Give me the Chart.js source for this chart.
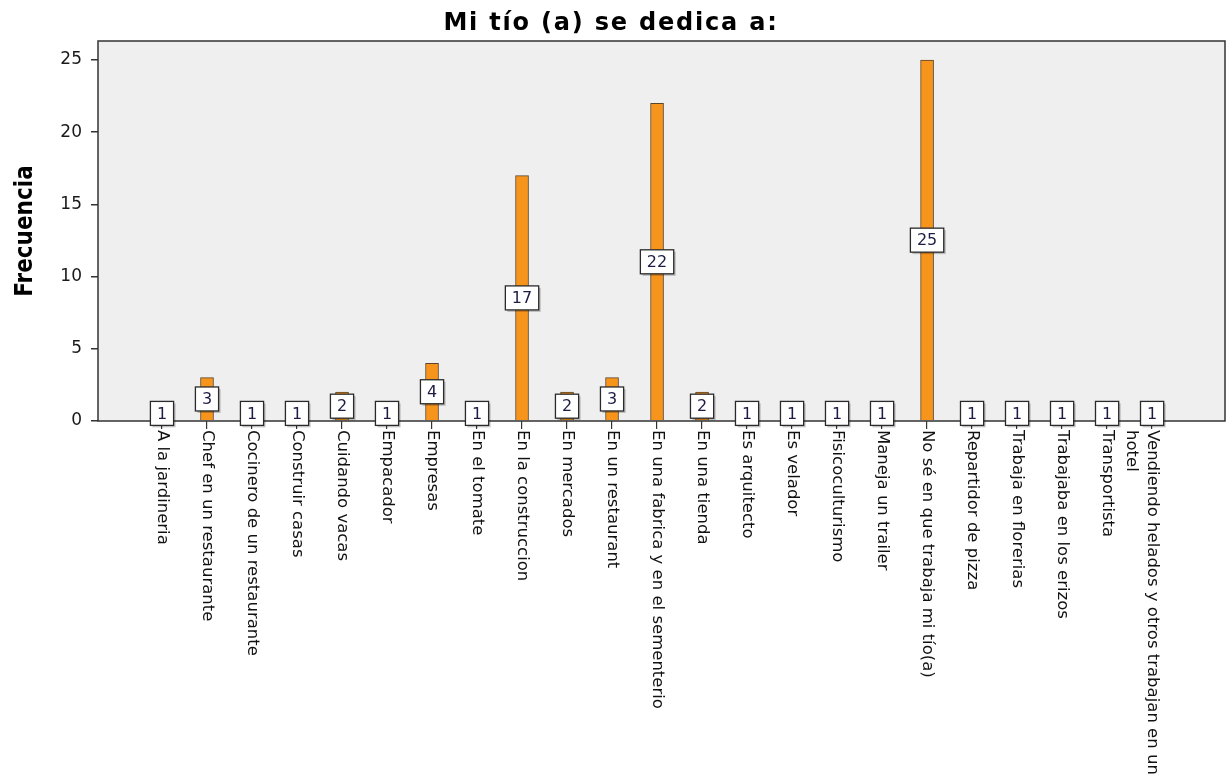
<!DOCTYPE html>
<html>
<head>
<meta charset="utf-8">
<script src="https://cdn.jsdelivr.net/npm/chart.js@4.4.1/dist/chart.umd.min.js"></script>
<style>
html, body { margin: 0; padding: 0; background: #ffffff; }
canvas { display: block; }
</style>
</head>
<body>
<canvas id="c" width="1226" height="781"></canvas>
<script>
// ---- data ----
const chartTitle = 'Mi tío (a) se dedica a:';
const yAxisTitle = 'Frecuencia';
const categories = [
  'A la jardineria',
  'Chef en un restaurante',
  'Cocinero de un restaurante',
  'Construir casas',
  'Cuidando vacas',
  'Empacador',
  'Empresas',
  'En el tomate',
  'En la construccion',
  'En mercados',
  'En un restaurant',
  'En una fabrica y en el sementerio',
  'En una tienda',
  'Es arquitecto',
  'Es velador',
  'Fisicoculturismo',
  'Maneja un trailer',
  'No sé en que trabaja mi tío(a)',
  'Repartidor de pizza',
  'Trabaja en florerias',
  'Trabajaba en los erizos',
  'Transportista',
  ['Vendiendo helados y otros trabajan en un', 'hotel']
];
const frequencies = [1, 3, 1, 1, 2, 1, 4, 1, 17, 2, 3, 22, 2, 1, 1, 1, 1, 25, 1, 1, 1, 1, 1];
const yTicks = [0, 5, 10, 15, 20, 25];

// ---- styling ----
const BAR_FILL = '#F7941C';
const BAR_EDGE = '#5a4528';
const PLOT_BG = '#EFEFEF';
const FRAME = '#333333';

const points = frequencies.map((v, i) => ({ x: i, y: v }));

const plotFrame = {
  id: 'plotFrame',
  beforeDatasetsDraw(chart) {
    const { ctx, chartArea: a } = chart;
    ctx.save();
    ctx.fillStyle = PLOT_BG;
    ctx.fillRect(a.left, a.top, a.right - a.left, a.bottom - a.top);
    ctx.restore();
  },
  afterDatasetsDraw(chart) {
    const { ctx, chartArea: a } = chart;
    ctx.save();
    ctx.strokeStyle = FRAME;
    ctx.lineWidth = 1.5;
    ctx.strokeRect(a.left, a.top, a.right - a.left, a.bottom - a.top);
    // value boxes
    const meta = chart.getDatasetMeta(0);
    ctx.font = '16px "DejaVu Sans", sans-serif';
    ctx.textAlign = 'center';
    ctx.textBaseline = 'middle';
    meta.data.forEach((bar, i) => {
      const txt = String(frequencies[i]);
      const w = ctx.measureText(txt).width + 13;
      const h = 24;
      const cx = bar.x;
      const cy = (bar.y + bar.base) / 2;
      ctx.fillStyle = 'rgba(0,0,0,0.22)';
      ctx.fillRect(cx - w / 2 + 2, cy - h / 2 + 2, w, h);
      ctx.fillStyle = '#ffffff';
      ctx.fillRect(cx - w / 2, cy - h / 2, w, h);
      ctx.lineWidth = 1.3;
      ctx.strokeStyle = '#2a2a2a';
      ctx.strokeRect(cx - w / 2, cy - h / 2, w, h);
      ctx.fillStyle = '#1c1c44';
      ctx.fillText(txt, cx, cy + 1);
    });
    ctx.restore();
  }
};

const textLayer = {
  id: 'textLayer',
  afterDraw(chart) {
    const { ctx, chartArea: a } = chart;
    const xs = chart.scales.x;
    ctx.save();
    // title
    ctx.font = 'bold 24px "DejaVu Sans", sans-serif';
    ctx.fillStyle = '#000000';
    ctx.textAlign = 'center';
    ctx.textBaseline = 'middle';
    ctx.letterSpacing = '1.8px';
    ctx.fillText(chartTitle, chart.width / 2 - 2, 24);
    ctx.letterSpacing = '0px';
    // rotated category labels
    ctx.font = '16.5px "DejaVu Sans", sans-serif';
    ctx.fillStyle = '#111111';
    ctx.textAlign = 'left';
    ctx.textBaseline = 'middle';
    categories.forEach((lab, i) => {
      const px = xs.getPixelForValue(i);
      const lines = Array.isArray(lab) ? lab : [lab];
      ctx.save();
      ctx.translate(px, a.bottom + 9);
      ctx.rotate(Math.PI / 2);
      lines.forEach((ln, k) => ctx.fillText(ln, 0, k * 21));
      ctx.restore();
    });
    ctx.restore();
  }
};

new Chart(document.getElementById('c'), {
  type: 'bar',
  data: {
    datasets: [{
      data: points,
      backgroundColor: BAR_FILL,
      borderColor: BAR_EDGE,
      borderWidth: 1,
      barThickness: 13
    }]
  },
  options: {
    responsive: false,
    animation: false,
    devicePixelRatio: 1,
    layout: { padding: { left: 0, right: 1, top: 41, bottom: 0 } },
    plugins: {
      legend: { display: false },
      tooltip: { enabled: false },
      title: { display: false }
    },
    scales: {
      x: {
        type: 'linear',
        min: -1.422,
        max: 23.62,
        offset: false,
        border: { display: false },
        grid: { display: true, offset: false, drawOnChartArea: false, drawTicks: true, tickLength: 8, color: FRAME, lineWidth: 1.2 },
        ticks: { autoSkip: false, maxRotation: 0, callback: () => '' },
        afterBuildTicks(scale) { scale.ticks = categories.map((_, i) => ({ value: i })); },
        afterFit(scale) { scale.height = 360; }
      },
      y: {
        min: 0,
        max: 26.32,
        border: { display: false },
        grid: { display: true, drawOnChartArea: false, drawTicks: true, tickLength: 7, color: FRAME, lineWidth: 1.5 },
        ticks: {
          padding: 9,
          color: '#1a1a1a',
          font: { family: '"DejaVu Sans", sans-serif', size: 17 }
        },
        afterBuildTicks(scale) { scale.ticks = yTicks.map(v => ({ value: v })); },
        afterFit(scale) { scale.width = 98; },
        title: {
          display: true,
          text: yAxisTitle,
          color: '#000000',
          font: { family: '"DejaVu Sans Condensed", "DejaVu Sans", sans-serif', size: 24, weight: 'bold' },
          padding: { top: 11, bottom: 0 }
        }
      }
    }
  },
  plugins: [plotFrame, textLayer]
});
</script>
</body>
</html>
